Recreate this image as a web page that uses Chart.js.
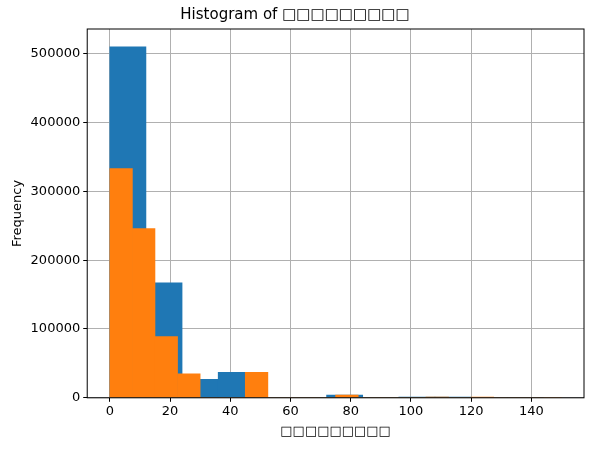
<!DOCTYPE html>
<html lang="en">
<head>
<meta charset="UTF-8">
<title>Histogram</title>
<script src="https://cdn.jsdelivr.net/npm/chart.js"></script>
<style>body{margin:0;background:#fff}</style>
</head>
<body>
<div style="width:601px;height:456px"><canvas id="hist"></canvas></div>
<script>
// blue bins are 12 wide, orange bins 7.5 wide (centres)
const blueCentres = [6, 18, 30, 42, 54, 66, 78, 90, 102, 114, 126, 138];
const blueCounts = [510000, 167000, 27000, 37000, 0, 0, 4000, 0, 1000, 1000, 0, 0];
const orangeCentres = [3.75, 11.25, 18.75, 26.25, 33.75, 41.25, 48.75, 56.25, 63.75, 71.25,
    78.75, 86.25, 93.75, 101.25, 108.75, 116.25, 123.75, 131.25, 138.75, 146.25];
const orangeCounts = [333000, 246000, 89000, 35000, 0, 0, 37000, 0, 0, 0,
    4000, 0, 0, 0, 1000, 0, 1000, 0, 0, 0];
const xTicks = [0, 20, 40, 60, 80, 100, 120, 140];
const yTicks = [0, 100000, 200000, 300000, 400000, 500000];
const titleText = 'Histogram of □□□□□□□□□';
const xLabel = '□□□□□□□□□';
const yLabel = 'Frequency';

Chart.defaults.font.family = 'DejaVu Sans';
Chart.defaults.color = '#000';

const frame = {
    id: 'frame',
    afterDraw(chart) {
        const a = chart.chartArea, c = chart.ctx;
        c.save();
        c.strokeStyle = '#000';
        c.lineWidth = 1;
        c.strokeRect(a.left, a.top, a.right - a.left, a.bottom - a.top);
        c.restore();
    }
};

const ctx = document.getElementById('hist').getContext('2d');
new Chart(ctx, {
    type: 'bar',
    data: {
        datasets: [{
            data: blueCentres.map((x, i) => ({x: x, y: blueCounts[i]})),
            backgroundColor: '#1f77b4',
            xAxisID: 'x',
            order: 1
        }, {
            data: orangeCentres.map((x, i) => ({x: x, y: orangeCounts[i]})),
            backgroundColor: '#ff7f0e',
            xAxisID: 'x2',
            order: 0
        }]
    },
    options: {
        responsive: true,
        maintainAspectRatio: false,
        animation: false,
        grouped: false,
        barPercentage: 1,
        categoryPercentage: 1,
        borderWidth: 0,
        layout: {padding: {left: 6, right: 17, top: 2, bottom: 13}},
        plugins: {
            legend: {display: false},
            tooltip: {enabled: false},
            title: {display: true, text: titleText, font: {size: 15, weight: 'normal'}, padding: {top: 4, bottom: 5}}
        },
        scales: {
            x: {
                type: 'linear', min: -7.5, max: 157.5, z: 1, offset: false,
                afterBuildTicks: s => { s.ticks = xTicks.map(v => ({value: v})); },
                grid: {color: '#b0b0b0', tickColor: '#000', tickLength: 4, offset: false},
                border: {display: false},
                ticks: {font: {size: 13}, padding: 2, maxRotation: 0, callback: v => String(v)},
                title: {display: true, text: xLabel, font: {size: 13}, padding: {top: 2}}
            },
            x2: {type: 'linear', min: -7.5, max: 157.5, display: false, offset: false},
            y: {
                min: 0, max: 536000, z: 1,
                afterBuildTicks: s => { s.ticks = yTicks.map(v => ({value: v})); },
                grid: {color: '#b0b0b0', tickColor: '#000', tickLength: 4},
                border: {display: false},
                ticks: {font: {size: 13}, padding: 3, callback: v => String(v)},
                title: {display: true, text: yLabel, font: {size: 13}, padding: {bottom: 2}}
            }
        }
    },
    plugins: [frame]
});
</script>
</body>
</html>
